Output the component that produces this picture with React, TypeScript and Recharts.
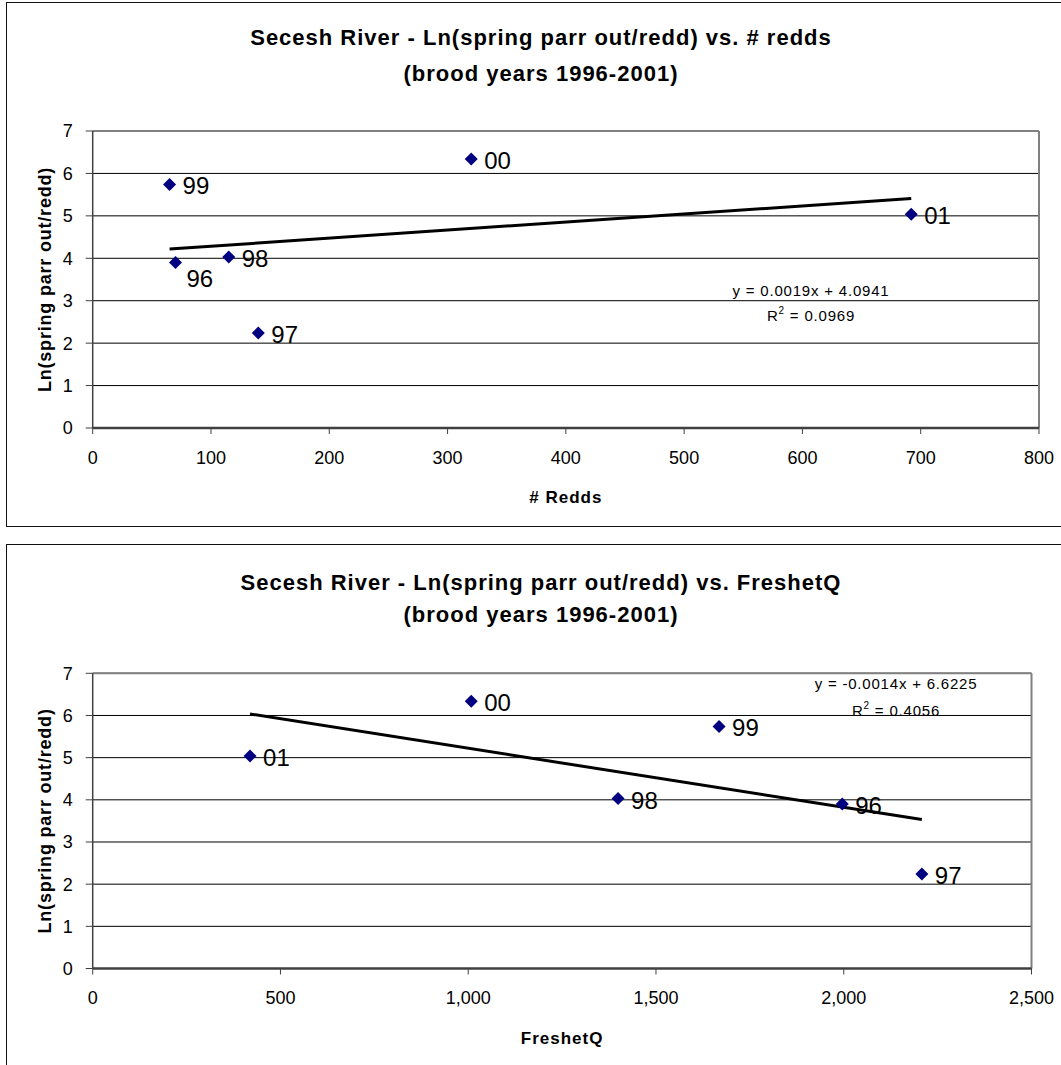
import { CartesianGrid, ReferenceLine, Scatter, ScatterChart, XAxis, YAxis } from "recharts";

// brood years 1996-2001
const years = ["96", "97", "98", "99", "00", "01"];
const lnParrPerRedd = [3.9, 2.24, 4.03, 5.74, 6.34, 5.04];
const redds = [70, 140, 115, 65, 320, 692];
const freshetQ = [1996, 2208, 1399, 1668, 1008, 419];

const yTicks = [0, 1, 2, 3, 4, 5, 6, 7];
const reddTicks = [0, 100, 200, 300, 400, 500, 600, 700, 800];
const freshetTicks = [0, 500, 1000, 1500, 2000, 2500];

const reddFit = { slope: 0.0019, intercept: 4.0941 };
const freshetFit = { slope: -0.0014, intercept: 6.6225 };

const FONT = '"Liberation Sans", Arial, sans-serif';
const W = 1061;
const H = 528;

type Pt = { x: number; y: number; year: string };

function points(xs: number[]): Pt[] {
  return xs.map((x, i) => ({ x, y: lnParrPerRedd[i], year: years[i] }));
}

function trend(xs: number[], fit: { slope: number; intercept: number }) {
  const lo = Math.min(...xs);
  const hi = Math.max(...xs);
  return [lo, hi].map((x) => ({ x, y: fit.slope * x + fit.intercept }));
}

function makeDiamond(below: string[]) {
  return (props: any) => {
    const { cx, cy, payload } = props;
    const r = 6.5;
    const isBelow = below.includes(payload?.year);
    return (
      <g>
        <polygon
          points={`${cx},${cy - r} ${cx + r},${cy} ${cx},${cy + r} ${cx - r},${cy}`}
          fill="#000080"
        />
        <text
          x={cx + (isBelow ? 11 : 13)}
          y={cy + (isBelow ? 24 : 10)}
          fontSize={24}
          fontFamily={FONT}
          fill="#000"
        >
          {payload?.year}
        </text>
      </g>
    );
  };
}

interface PanelProps {
  top: number;
  plotTop: number;
  plotBottom: number;
  plotRight: number;
  xs: number[];
  xTicks: number[];
  fit: { slope: number; intercept: number };
  xLabel: string;
  labelOffset: number;
  below?: string[];
  commas?: boolean;
}

function Panel(p: PanelProps) {
  const xMax = p.xTicks[p.xTicks.length - 1];
  return (
    <div style={{ position: "absolute", left: 0, top: p.top }}>
      <ScatterChart
        width={W}
        height={H}
        margin={{ top: p.plotTop, right: W - p.plotRight, bottom: 0, left: 0 }}
      >
        <CartesianGrid horizontal vertical={false} stroke="#000" strokeWidth={1} />
        <XAxis
          type="number"
          dataKey="x"
          domain={[0, xMax]}
          ticks={p.xTicks}
          interval={0}
          height={H - p.plotBottom}
          tickSize={6}
          tickMargin={17}
          axisLine={{ stroke: "#404040", strokeWidth: 2.5 }}
          tickLine={{ stroke: "#404040" }}
          tick={{ fill: "#000", fontSize: 18, fontFamily: FONT }}
          tickFormatter={(v: number) => (p.commas ? v.toLocaleString("en-US") : String(v))}
          label={{
            value: p.xLabel,
            position: "insideBottom",
            offset: p.labelOffset,
            fill: "#000",
            fontSize: 17,
            fontWeight: "bold",
            fontFamily: FONT,
            style: { letterSpacing: "1px" },
          }}
        />
        <YAxis
          type="number"
          dataKey="y"
          domain={[0, 7]}
          ticks={yTicks}
          interval={0}
          width={92.7}
          tickSize={7}
          tickMargin={13}
          axisLine={{ stroke: "#404040", strokeWidth: 1.5 }}
          tickLine={{ stroke: "#404040" }}
          tick={{ fill: "#000", fontSize: 18, fontFamily: FONT }}
          label={{
            value: "Ln(spring parr out/redd)",
            angle: -90,
            position: "insideLeft",
            offset: 45,
            fill: "#000",
            fontSize: 18,
            fontWeight: "bold",
            fontFamily: FONT,
            style: { textAnchor: "middle", letterSpacing: "0.8px" },
          }}
        />
        <ReferenceLine y={7} stroke="#808080" strokeWidth={2} />
        <ReferenceLine x={xMax} stroke="#808080" strokeWidth={2} />
        <Scatter
          data={trend(p.xs, p.fit)}
          line={{ stroke: "#000", strokeWidth: 3 }}
          shape={() => <g />}
          isAnimationActive={false}
        />
        <Scatter
          data={points(p.xs)}
          shape={makeDiamond(p.below ?? [])}
          isAnimationActive={false}
        />
      </ScatterChart>
    </div>
  );
}

function Texts() {
  const title = { fontFamily: FONT, fontSize: 22, fontWeight: "bold" as const, letterSpacing: "1px" };
  const eq = { fontFamily: FONT, fontSize: 15, letterSpacing: "0.8px" };
  return (
    <svg
      width={W}
      height={1065}
      style={{ position: "absolute", left: 0, top: 0, pointerEvents: "none" }}
    >
      <text x={541} y={45} textAnchor="middle" style={title}>
        Secesh River - Ln(spring parr out/redd) vs. # redds
      </text>
      <text x={541} y={81} textAnchor="middle" style={title}>
        (brood years 1996-2001)
      </text>
      <text x={811} y={296} textAnchor="middle" style={eq}>
        y = 0.0019x + 4.0941
      </text>
      <text x={811} y={321} textAnchor="middle" style={eq}>
        R<tspan dy={-7} fontSize={10}>2</tspan>
        <tspan dy={7}> = 0.0969</tspan>
      </text>

      <text x={541} y={590} textAnchor="middle" style={title}>
        Secesh River - Ln(spring parr out/redd) vs. FreshetQ
      </text>
      <text x={541} y={622} textAnchor="middle" style={title}>
        (brood years 1996-2001)
      </text>
      <text x={896} y={689} textAnchor="middle" style={eq}>
        y = -0.0014x + 6.6225
      </text>
      <text x={896} y={716} textAnchor="middle" style={eq}>
        R<tspan dy={-7} fontSize={10}>2</tspan>
        <tspan dy={7}> = 0.4056</tspan>
      </text>
    </svg>
  );
}

export default function App() {
  return (
    <div
      style={{
        position: "absolute",
        left: 0,
        top: 0,
        width: W,
        height: 1065,
        overflow: "hidden",
        background: "#fff",
        fontFamily: FONT,
      }}
    >
      <div style={{ position: "absolute", left: 6, top: 2, width: 1100, height: 523, border: "1.5px solid #111" }} />
      <div style={{ position: "absolute", left: 6, top: 544, width: 1100, height: 600, border: "1.5px solid #111" }} />
      <Panel
        top={0}
        plotTop={131}
        plotBottom={428}
        plotRight={1039}
        xs={redds}
        xTicks={reddTicks}
        fit={reddFit}
        xLabel="# Redds"
        labelOffset={25}
        below={["96"]}
      />
      <Panel
        top={537}
        plotTop={136.3}
        plotBottom={431.5}
        plotRight={1031.5}
        xs={freshetQ}
        xTicks={freshetTicks}
        fit={freshetFit}
        xLabel="FreshetQ"
        labelOffset={21}
        commas
      />
      <Texts />
    </div>
  );
}
